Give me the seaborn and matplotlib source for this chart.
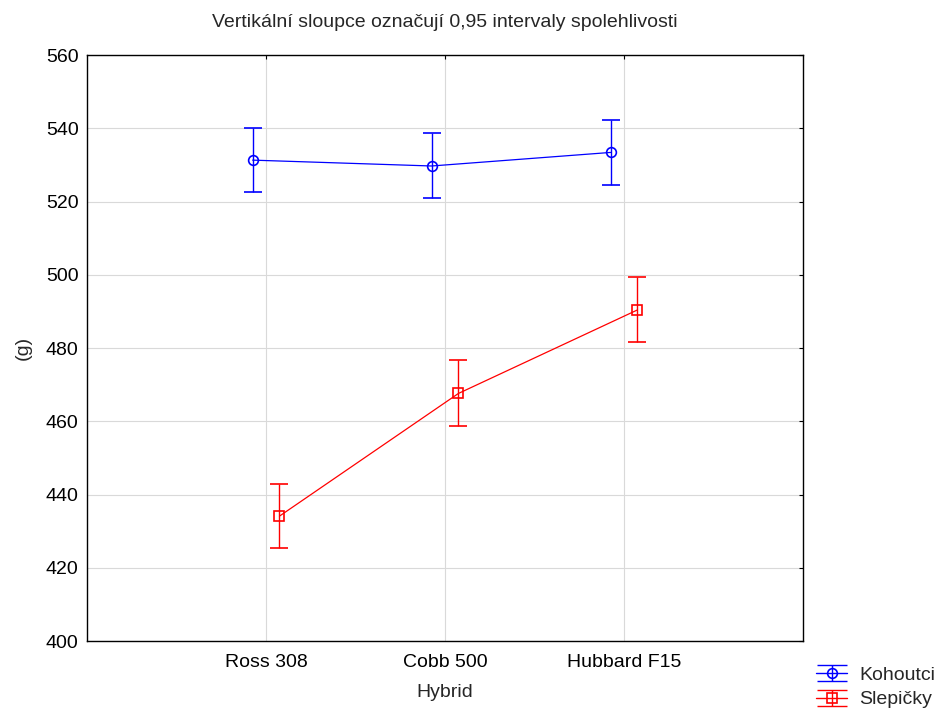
import pandas as pd
import matplotlib.pyplot as plt
import seaborn as sns
from matplotlib.path import Path
from matplotlib.lines import Line2D

# Means and 0.95 confidence limits
hybrids = ["Ross 308", "Cobb 500", "Hubbard F15"]
groups = ["Kohoutci", "Slepičky"]
kohoutci_mean = [531.3, 529.7, 533.4]
kohoutci_low = [522.6, 521.0, 524.5]
kohoutci_high = [540.1, 538.6, 542.3]
slepicky_mean = [434.1, 467.6, 490.4]
slepicky_low = [425.3, 458.7, 481.6]
slepicky_high = [442.9, 476.6, 499.4]

colors = {"Kohoutci": "#0000ff", "Slepičky": "#ff0000"}
markers = {"Kohoutci": "o", "Slepičky": "s"}
offsets = {"Kohoutci": -0.075, "Slepičky": 0.075}

rows = []
for g, means, lows, highs in [
    ("Kohoutci", kohoutci_mean, kohoutci_low, kohoutci_high),
    ("Slepičky", slepicky_mean, slepicky_low, slepicky_high),
]:
    for i, h in enumerate(hybrids):
        rows.append({"skupina": g, "hybrid": h, "pos": i + offsets[g],
                     "mean": means[i], "low": lows[i], "high": highs[i]})
df = pd.DataFrame(rows)

sns.set_style("white")
plt.rcParams["font.family"] = ["Liberation Sans", "DejaVu Sans"]

fig = plt.figure(figsize=(9.38, 7.08), dpi=100)
ax = fig.add_axes([0.0928, 0.0946, 0.7633, 0.8277])

for g in groups:
    d = df[df["skupina"] == g]
    sns.lineplot(data=d, x="pos", y="mean", color=colors[g], lw=0.9,
                 ax=ax, legend=False, sort=True)
    ax.errorbar(d["pos"], d["mean"],
                yerr=[d["mean"] - d["low"], d["high"] - d["mean"]],
                fmt=markers[g], color=colors[g], mfc="none", mec=colors[g],
                ms=7, mew=1.2, ecolor=colors[g], elinewidth=1.0,
                capsize=6.5, capthick=1.0, zorder=3)

ax.set_xlim(-1, 3)
ax.set_ylim(400, 560)
ax.set_xticks(range(len(hybrids)))
ax.set_xticklabels(hybrids)
ax.set_yticks(range(400, 561, 20))
ax.grid(True, color="#d9d9d9", lw=0.8)
ax.set_axisbelow(True)
for s in ax.spines.values():
    s.set_color("black")
    s.set_linewidth(1.0)
ax.tick_params(axis="both", direction="in", length=3, labelsize=14,
               top=True, right=True, colors="black")
ax.tick_params(axis="x", pad=9)
ax.tick_params(axis="y", pad=6)
ax.set_xlabel("Hybrid", fontsize=14, labelpad=10)
ax.set_ylabel("(g)", fontsize=14, labelpad=10)
ax.set_title("Vertikální sloupce označují 0,95 intervaly spolehlivosti",
             fontsize=14, pad=20)

# legend symbol: errorbar with caps drawn across the handle
cap_path = Path([(-1, 0.55), (1, 0.55), (-1, -0.55), (1, -0.55), (0, 0.55), (0, -0.55)],
                [Path.MOVETO, Path.LINETO, Path.MOVETO, Path.LINETO, Path.MOVETO, Path.LINETO])
handles = []
for g in groups:
    line = Line2D([], [], color=colors[g], lw=1.0, marker=markers[g], ms=7,
                  mfc="none", mec=colors[g], mew=1.2)
    caps = Line2D([], [], color=colors[g], lw=0, marker=cap_path, ms=22,
                  mfc="none", mec=colors[g], mew=1.0)
    handles.append((line, caps))
fig.legend(handles, groups, loc="lower right", bbox_to_anchor=(1.001, -0.006),
           frameon=False, fontsize=14, handlelength=1.6, handletextpad=0.6,
           labelspacing=0.35, borderaxespad=0.0, borderpad=0.2)

fig.savefig("out.png", dpi=100)
